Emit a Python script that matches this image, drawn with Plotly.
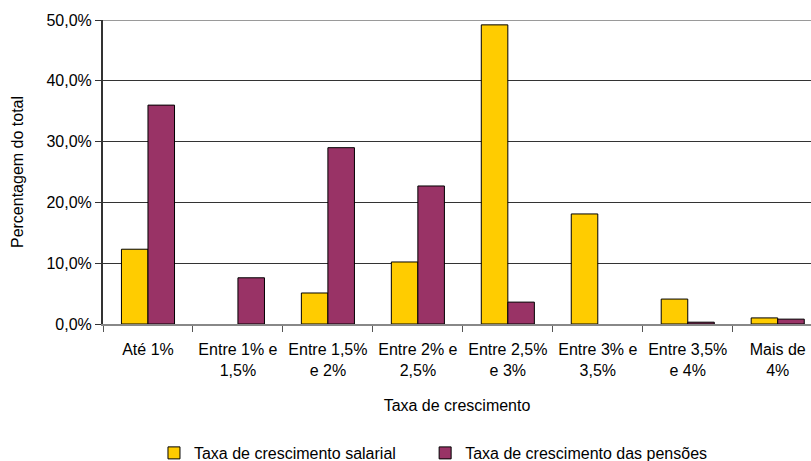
import plotly.graph_objects as go

categories = ["Até 1%", "Entre 1% e<br>1,5%", "Entre 1,5%<br>e 2%", "Entre 2% e<br>2,5%",
              "Entre 2,5%<br>e 3%", "Entre 3% e<br>3,5%", "Entre 3,5%<br>e 4%", "Mais de<br>4%"]
salarial = [12.3, 0.0, 5.1, 10.2, 49.2, 18.1, 4.1, 1.0]
pensoes = [36.0, 7.6, 29.0, 22.7, 3.6, 0.0, 0.3, 0.8]
y_ticks = [0, 10, 20, 30, 40, 50]
y_tick_text = ["0,0%", "10,0%", "20,0%", "30,0%", "40,0%", "50,0%"]

FONT = "Liberation Sans, Arial, sans-serif"
FS = 16


def hide_zero(values):
    # empty classes get no bar at all (no outline sitting on the axis)
    return [v if v > 0 else None for v in values]


fig = go.Figure()
fig.add_trace(go.Bar(x=categories, y=hide_zero(salarial), name="Taxa de crescimento salarial",
                     marker=dict(color="#FFCC00", line=dict(color="#000000", width=1)),
                     legend="legend"))
fig.add_trace(go.Bar(x=categories, y=hide_zero(pensoes), name="Taxa de crescimento das pensões",
                     marker=dict(color="#993366", line=dict(color="#000000", width=1)),
                     legend="legend2"))

# lighter top boundary line at the axis maximum
fig.add_shape(type="line", xref="paper", x0=0, x1=1, yref="y", y0=50, y1=50,
              line=dict(color="#9a9a9a", width=2), layer="above")

legend_style = dict(orientation="h", xanchor="left",
                    yref="container", y=0.0174, yanchor="middle",
                    font=dict(family=FONT, size=FS), itemwidth=30,
                    bgcolor="rgba(0,0,0,0)")

fig.update_layout(
    width=811, height=461,
    margin=dict(l=103, r=0, t=20, b=137, autoexpand=False),
    paper_bgcolor="white", plot_bgcolor="white",
    barmode="group", bargap=0.41, bargroupgap=0,
    font=dict(family=FONT, size=FS, color="#000000"),
    showlegend=True,
    legend=dict(x=0.072, **legend_style),
    legend2=dict(x=0.455, **legend_style),
)
fig.update_xaxes(
    type="category", range=[-0.5, 7.37],
    tickson="boundaries", ticks="outside", ticklen=6, tickcolor="#555555",
    ticklabelstandoff=10,
    showline=True, linecolor="#888888", linewidth=2,
    showgrid=False,
    tickfont=dict(family=FONT, size=FS),
    title=dict(text="Taxa de crescimento", font=dict(family=FONT, size=FS), standoff=22),
)
fig.update_yaxes(
    range=[0, 50], tickvals=y_ticks, ticktext=y_tick_text,
    ticks="outside", ticklen=6, tickcolor="#333333",
    showline=True, linecolor="#333333", linewidth=2,
    showgrid=True, gridcolor="#333333", gridwidth=1,
    zeroline=False,
    tickfont=dict(family=FONT, size=FS),
    title=dict(text="Percentagem do total", font=dict(family=FONT, size=FS), standoff=19),
)

fig.write_html("out.html")
